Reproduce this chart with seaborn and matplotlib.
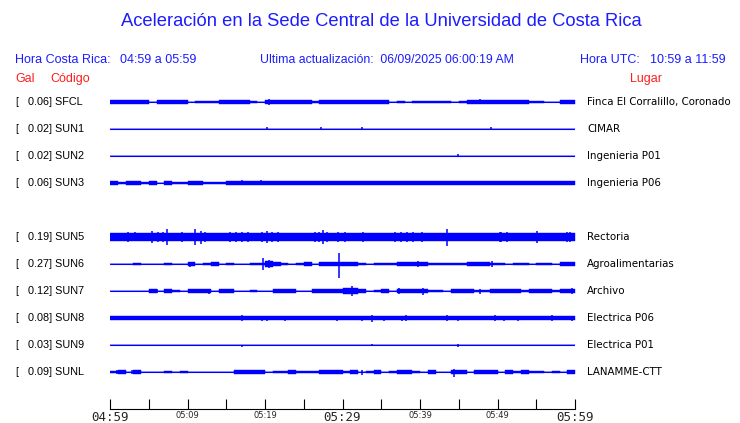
import numpy as np
import pandas as pd
import seaborn as sns
import matplotlib
matplotlib.use("Agg")
import matplotlib.pyplot as plt

# 1. DATA (amplitudes in screen pixels, one value per minute)
codes = ["SFCL", "SUN1", "SUN2", "SUN3", "SUN5", "SUN6", "SUN7", "SUN8", "SUN9", "SUNL"]
peak_gal = [0.06, 0.02, 0.02, 0.06, 0.19, 0.27, 0.12, 0.08, 0.03, 0.09]
places = ["Finca El Corralillo, Coronado", "CIMAR", "Ingenieria P01", "Ingenieria P06",
          "Rectoria", "Agroalimentarias", "Archivo", "Electrica P06", "Electrica P01",
          "LANAMME-CTT"]

sfcl_amp = [1.5, 1.5, 1.5, 1.3, 1.2, 0.3, 1.2, 1.2, 1.2, 1.2,
            0.3, 1.0, 0.8, 0.8, 1.4, 1.4, 1.2, 1.2, 0.5, 0.3,
            1.4, 1.4, 1.4, 1.4, 1.4, 1.2, 1.0, 1.2, 1.3, 1.4,
            1.5, 1.5, 1.3, 1.2, 1.3, 1.2, 0.3, 1.0, 0.3, 1.0,
            1.0, 0.6, 0.6, 0.6, 0.3, 0.6, 1.2, 1.2, 1.2, 1.2,
            1.2, 1.2, 1.2, 1.2, 1.0, 1.0, 0.3, 0.3, 1.2, 1.2]
sun1_amp = [0, 0, 0, 0, 0, 0, 0, 0, 0, 0,
            0, 0, 0, 0, 0, 0, 0, 0, 0, 0,
            0, 0, 0, 0, 0, 0, 0, 0, 0, 0,
            0, 0, 0, 0, 0, 0, 0, 0, 0, 0,
            0, 0, 0, 0, 0, 0, 0, 0, 0, 0,
            0, 0, 0, 0, 0, 0, 0, 0, 0, 0]
sun2_amp = [0, 0, 0, 0, 0, 0, 0, 0, 0, 0,
            0, 0, 0, 0, 0, 0, 0, 0, 0, 0,
            0, 0, 0, 0, 0, 0, 0, 0, 0, 0,
            0, 0, 0, 0, 0, 0, 0, 0, 0, 0,
            0, 0, 0, 0, 0, 0, 0, 0, 0, 0,
            0, 0, 0, 0, 0, 0, 0, 0, 0, 0]
sun3_amp = [1.2, 0.6, 1.2, 1.2, 0.6, 1.2, 0.3, 1.2, 0.6, 0.6,
            1.2, 1.2, 0.6, 0.6, 0.6, 1.3, 1.3, 1.5, 1.3, 1.3,
            1.3, 1.3, 1.3, 1.3, 1.3, 1.3, 1.3, 1.3, 1.3, 1.3,
            1.3, 1.3, 1.3, 1.3, 1.3, 1.3, 1.3, 1.2, 1.3, 1.3,
            1.3, 1.3, 1.3, 1.2, 1.3, 1.3, 1.3, 1.3, 1.3, 1.3,
            1.3, 1.3, 1.3, 1.3, 1.3, 1.3, 1.3, 1.3, 1.3, 1.3]
sun5_amp = [2.8, 2.6, 2.6, 2.6, 2.6, 2.8, 2.8, 2.8, 2.6, 2.6,
            2.6, 2.8, 2.6, 2.6, 2.6, 3.0, 3.0, 3.0, 2.6, 2.6,
            3.0, 3.0, 2.8, 2.6, 2.6, 2.6, 2.6, 3.2, 3.2, 2.6,
            2.8, 2.8, 2.8, 2.6, 2.6, 2.6, 3.0, 3.0, 3.0, 3.0,
            2.6, 2.6, 2.6, 2.8, 2.6, 3.0, 3.0, 2.6, 2.6, 2.6,
            3.0, 3.0, 2.6, 2.6, 2.6, 3.0, 2.6, 2.6, 3.0, 3.0]
sun6_amp = [0, 0, 0, 0.8, 0, 0, 0, 0.8, 0, 0,
            1.2, 0, 0.8, 1.2, 0, 0.8, 0, 0, 1.0, 1.0,
            2.5, 1.2, 0.6, 0, 0.8, 1.2, 0, 1.2, 1.2, 1.2,
            1.3, 1.2, 0.8, 0, 0.8, 1.0, 1.0, 1.2, 1.2, 1.2,
            1.2, 0.6, 0.8, 0.8, 0.8, 0.8, 1.2, 1.2, 1.2, 0.6,
            0.8, 0, 1.0, 1.0, 0, 0.8, 0.8, 0, 1.2, 1.2]
sun7_amp = [0, 0, 0, 0, 0, 1.2, 0, 1.3, 1.0, 0,
            1.3, 1.3, 1.5, 0, 1.3, 1.3, 0, 0, 1.0, 0,
            0, 1.3, 1.3, 1.2, 0, 0, 1.2, 1.2, 1.3, 1.5,
            2.5, 2.0, 1.3, 0, 1.0, 1.2, 0, 1.3, 1.2, 1.3,
            1.3, 0.6, 1.0, 0, 1.2, 1.2, 1.3, 0.6, 1.0, 1.3,
            1.3, 1.3, 1.3, 1.0, 1.2, 1.3, 1.3, 0.6, 1.3, 1.3]
sun8_amp = [1.8, 1.2, 1.8, 1.8, 1.8, 1.5, 1.5, 1.8, 1.8, 1.5,
            1.8, 1.8, 1.8, 1.8, 1.5, 1.8, 1.8, 1.8, 1.8, 1.8,
            1.8, 1.8, 1.8, 1.8, 1.8, 1.8, 1.8, 1.8, 1.8, 1.8,
            1.8, 1.8, 1.8, 1.8, 1.8, 1.8, 1.8, 1.8, 1.8, 1.8,
            1.8, 1.8, 1.8, 1.8, 1.8, 1.8, 1.8, 1.8, 1.8, 1.8,
            1.8, 1.8, 1.8, 1.8, 1.8, 1.8, 1.8, 1.8, 1.8, 1.8]
sun9_amp = [0, 0, 0, 0, 0, 0, 0, 0, 0, 0,
            0, 0, 0, 0, 0, 0, 0, 0, 0, 0,
            0, 0, 0, 0, 0, 0, 0, 0, 0, 0,
            0, 0, 0, 0, 0, 0, 0, 0, 0, 0,
            0, 0, 0, 0, 0, 0, 0, 0, 0, 0,
            0, 0, 0, 0, 0, 0, 0, 0, 0, 0]
sunl_amp = [0.6, 1.2, 0, 1.2, 0, 0, 0, 0.6, 0.3, 0.6,
            0, 0, 0, 0, 0, 0, 1.3, 1.3, 1.2, 1.3,
            0, 1.0, 1.0, 1.3, 0.6, 0.6, 1.0, 1.2, 1.3, 1.2,
            1.0, 1.2, 0, 1.0, 1.5, 0, 0.6, 1.3, 1.3, 0.6,
            0, 1.2, 0, 0, 1.5, 1.2, 0, 1.3, 1.2, 1.2,
            0, 1.2, 1.0, 1.2, 1.0, 0.6, 0, 1.0, 0, 1.2]

# isolated peaks: (minute, pixels up, pixels down)
sfcl_peaks = [(20.5, 3, 3), (34.1, 2, 1), (47.8, 2.5, 2.5)]
sun1_peaks = [(20.3, 1.5, 0), (27.2, 1.5, 1.5), (32.5, 1.5, 0.5), (41.1, 0, 1), (49.2, 1.5, 1.5)]
sun2_peaks = [(33.8, 0, 1.5), (44.9, 1.5, 1.5)]
sun3_peaks = [(17.0, 2.5, 2.5), (19.5, 2.5, 2.5), (33.2, 2, 2), (39.2, 2, 2), (50.7, 2, 2)]
sun5_peaks = [(2.3, 4.5, 4.5), (3.2, 4.5, 4), (5.4, 6, 6), (6.2, 4.5, 4.5), (6.8, 5, 4.5),
              (7.3, 8, 8), (9.3, 4.5, 4.5), (11.0, 8, 8), (11.8, 6, 7), (12.3, 4.5, 5),
              (15.5, 4.5, 4.5), (16.3, 5, 4.5), (17.0, 4.5, 5), (17.8, 4.5, 4.5),
              (19.6, 4.5, 5), (20.3, 6, 6), (20.9, 5, 4.5), (21.7, 4.5, 4.5),
              (26.5, 5, 5), (27.0, 5, 5.5), (27.5, 7, 7), (28.0, 5, 5), (29.4, 4.5, 4.5),
              (30.3, 4.5, 4.5), (32.6, 5, 5), (36.8, 4.5, 5), (37.5, 5, 4.5), (38.3, 5, 5),
              (39.1, 4.5, 4.5), (40.3, 4.5, 5), (43.5, 8, 9), (50.3, 4.5, 5), (50.5, 5, 5),
              (51.2, 4.5, 4.5), (55.1, 6, 6), (59.0, 5, 5), (59.4, 4.5, 4.5)]
sun6_peaks = [(10.3, 2.5, 2.5), (19.8, 6, 6), (20.5, 4, 4), (29.5, 11, 14), (39.8, 3, 3),
              (49.3, 3, 3)]
sun7_peaks = [(6.0, 2, 2), (12.8, 2, 3), (31.2, 5, 5), (37.3, 3, 3), (40.4, 3, 4),
              (47.8, 2.5, 2.5), (59.6, 3, 3)]
sun8_peaks = [(17.0, 3, 3), (19.6, 2.5, 2.5), (20.3, 2.5, 2.5), (22.6, 2.5, 2.5),
              (29.3, 2.5, 2.5), (32.5, 2.5, 2.5), (33.8, 3, 4), (35.4, 2.5, 2.5),
              (37.7, 2.5, 2.5), (38.2, 3, 3), (43.5, 3, 3), (44.9, 2.5, 2.5),
              (49.7, 3, 3), (50.8, 2.5, 2.5), (52.6, 2.5, 2.5), (57.0, 3, 3), (59.6, 2.5, 2.5)]
sun9_peaks = [(17.0, 0, 1.5), (33.8, 1.5, 0), (44.9, 1.5, 1.5)]
sunl_peaks = [(0.9, 2, 2), (2.8, 2, 2), (17.5, 2, 2), (32.5, 2.5, 2.5), (44.4, 3, 4.5)]

tick_labels = ["04:59", "", "05:09", "", "05:19", "", "05:29", "", "05:39", "", "05:49", "", "05:59"]
big_ticks = ["04:59", "05:29", "05:59"]

amps = [sfcl_amp, sun1_amp, sun2_amp, sun3_amp, sun5_amp, sun6_amp, sun7_amp, sun8_amp, sun9_amp, sunl_amp]
peaks = [sfcl_peaks, sun1_peaks, sun2_peaks, sun3_peaks, sun5_peaks, sun6_peaks, sun7_peaks,
         sun8_peaks, sun9_peaks, sunl_peaks]

# 2. LAYOUT (row 4 is left empty, there is no SUN4)
rows = [0, 1, 2, 3, 5, 6, 7, 8, 9, 10]
ROW_PX = 27.0
GAIN = 1.35          # display gain of the envelope blocks
BLUE = "#0000ff"
TXT_BLUE = "#1c1cff"
RED = "#ff1c1c"

sns.set_style("white")
plt.rcParams["font.family"] = ["Liberation Sans", "DejaVu Sans"]

W, H = 740, 423
fig = plt.figure(figsize=(W / 100, H / 100), dpi=100)


def fx(x):
    return x / W


def fy(y):
    return 1 - y / H


ax = fig.add_axes([fx(110), fy(385.5), fx(575) - fx(110), fy(88.5) - fy(385.5)])

# baselines through seaborn
base_df = pd.DataFrame({
    "minute": [0, 60] * len(codes),
    "row": np.repeat(rows, 2),
    "code": np.repeat(codes, 2),
})
sns.lineplot(data=base_df, x="minute", y="row", units="code", estimator=None,
             color=BLUE, lw=0.8, ax=ax, legend=False)

edges = np.arange(61)
for row, amp, pk in zip(rows, amps, peaks):
    a = GAIN * np.array(amp + [amp[-1]]) / ROW_PX
    ax.fill_between(edges, row - a, row + a, step="post", facecolor=BLUE,
                    edgecolor=BLUE, lw=0.3)
    for m, up, down in pk:
        ax.vlines(m, row - up / ROW_PX, row + down / ROW_PX, color=BLUE, lw=1.1)

ax.set_xlim(0, 60)
ax.set_ylim(10.5, -0.5)
ax.axis("off")

# time axis
tax = fig.add_axes([fx(110), fy(409), fx(575) - fx(110), 0.03])
tax.set_xlim(0, 60)
tax.set_yticks([])
for s in ["top", "left", "right"]:
    tax.spines[s].set_visible(False)
tax.spines["bottom"].set_color("black")
tax.spines["bottom"].set_linewidth(0.8)
tax.patch.set_alpha(0)
tax.set_xticks(np.arange(0, 61, 5))
tax.set_xticklabels(tick_labels)
tax.tick_params(axis="x", bottom=True, direction="in", length=7, width=0.8,
                color="black", pad=1.5)
for lbl in tax.get_xticklabels():
    if lbl.get_text() in big_ticks:
        lbl.set_fontsize(9)
        lbl.set_family("DejaVu Sans Mono")
    else:
        lbl.set_fontsize(6)
        lbl.set_family("DejaVu Sans")

# 3. TEXT
fig.text(fx(381), fy(21), "Aceleración en la Sede Central de la Universidad de Costa Rica",
         ha="center", va="center", fontsize=13.2, color=TXT_BLUE)
fig.text(fx(15), fy(60), "Hora Costa Rica:", va="center", fontsize=9, color=TXT_BLUE)
fig.text(fx(120), fy(60), "04:59 a 05:59", va="center", fontsize=9, color=TXT_BLUE)
fig.text(fx(260), fy(60), "Ultima actualización:  06/09/2025 06:00:19 AM", va="center",
         fontsize=8.85, color=TXT_BLUE)
fig.text(fx(580), fy(60), "Hora UTC:", va="center", fontsize=9, color=TXT_BLUE)
fig.text(fx(650), fy(60), "10:59 a 11:59", va="center", fontsize=9, color=TXT_BLUE)
fig.text(fx(15), fy(79), "Gal", va="center", fontsize=9, color=RED)
fig.text(fx(50), fy(79), "Código", va="center", fontsize=9, color=RED)
fig.text(fx(630), fy(79), "Lugar", va="center", fontsize=9, color=RED)

for row, code, g, place in zip(rows, codes, peak_gal, places):
    y = 102 + row * ROW_PX
    fig.text(fx(15), fy(y), "[", va="center", fontsize=7.8, color="black")
    fig.text(fx(28), fy(y), f"{g:.2f}] {code}", va="center", fontsize=7.8, color="black")
    fig.text(fx(587), fy(y), place, va="center", fontsize=7.4, color="black",
             family="DejaVu Sans")

fig.savefig("out.png", dpi=100)
